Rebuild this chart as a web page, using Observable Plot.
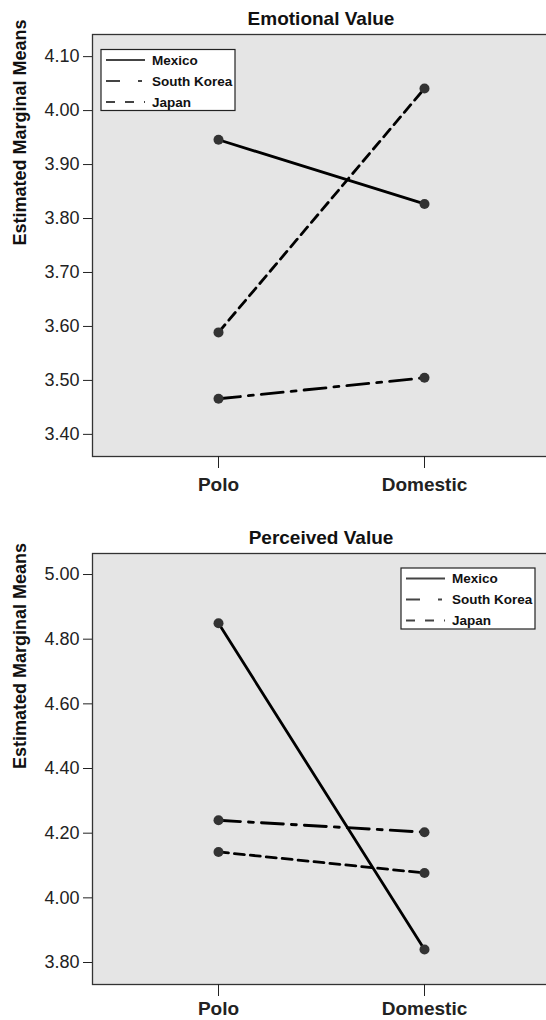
<!DOCTYPE html>
<html><head><meta charset="utf-8">
<script src="https://cdn.jsdelivr.net/npm/d3@7"></script>
<script src="https://cdn.jsdelivr.net/npm/@observablehq/plot@0.6"></script>
<style>
body{margin:0;background:#fff;font-family:"Liberation Sans",Arial,sans-serif;}
#wrap{width:546px;height:1020px;overflow:hidden;}
.title{width:550px;box-sizing:border-box;padding-left:92px;text-align:center;height:34px;line-height:38px;font-weight:bold;font-size:19px;color:#111;}
svg{display:block;max-width:none!important;}
</style></head><body><div id="wrap"></div>
<script>
// ---- data ----
const countries = ["Mexico", "South Korea", "Japan"];
const conditions = ["Polo", "Domestic"];
const emotionalMexico = [3.946, 3.827];
const emotionalSouthKorea = [3.466, 3.505];
const emotionalJapan = [3.589, 4.041];
const perceivedMexico = [4.849, 3.840];
const perceivedSouthKorea = [4.240, 4.203];
const perceivedJapan = [4.142, 4.077];
const emotionalTicks = [3.40, 3.50, 3.60, 3.70, 3.80, 3.90, 4.00, 4.10];
const perceivedTicks = [3.80, 4.00, 4.20, 4.40, 4.60, 4.80, 5.00];
const emotionalDomain = [3.359, 4.141];
const perceivedDomain = [3.732, 5.065];
const titles = ["Emotional Value", "Perceived Value"];
const yLabel = "Estimated Marginal Means";

// ---- styles ----
const lineDash = [null, "22,8,5,8", "10,6"];
const legendDash = [null, "14,18,4,20", "9,10"];

function rows(series) {
  const out = [];
  series.forEach((vals, i) => vals.forEach((v, j) => out.push({country: countries[i], condition: conditions[j], value: v})));
  return out;
}

function panel({title, data, domain, ticks, height, marginBottom, tickPadding, legendLeft, legendTop}) {
  const wrap = document.getElementById("wrap");
  const t = document.createElement("div");
  t.className = "title";
  t.textContent = title;
  wrap.appendChild(t);

  const lineMarks = countries.map((c, i) => Plot.line(data.filter(d => d.country === c), {
    x: "condition", y: "value", stroke: "#000", strokeWidth: 2.8,
    strokeDasharray: lineDash[i] ?? undefined
  }));

  const svg = Plot.plot({
    width: 550, height, marginLeft: 92, marginRight: 0, marginTop: 0, marginBottom,
    style: {fontFamily: "'Liberation Sans', Arial, sans-serif", color: "#222", background: "white", overflow: "visible"},
    x: {type: "point", domain: conditions, padding: 0.611},
    y: {domain, ticks},
    marks: [
      Plot.frame({fill: "#e5e5e5", stroke: "#333", strokeWidth: 1.3}),
      Plot.axisY({ticks, tickSize: 9, tickPadding: 4, fontSize: 18, label: null, tickFormat: d => d.toFixed(2)}),
      Plot.axisX({tickSize: 12, tickPadding, fontSize: 19, fontWeight: "bold", label: null}),
      ...lineMarks,
      Plot.dot(data, {x: "condition", y: "value", r: 5, fill: "#333", stroke: "none"}),
      Plot.text([yLabel], {frameAnchor: "left", rotate: -90, dx: -72, fontSize: 18, fontWeight: "bold", fill: "#111"})
    ]
  });
  svg.style.maxWidth = "none";
  wrap.appendChild(svg);

  const g = d3.select(svg).append("g").attr("transform", `translate(${legendLeft},${legendTop})`)
    .attr("text-anchor", "start");
  g.append("rect").attr("x", 0).attr("y", 0).attr("width", 134).attr("height", 61)
    .attr("fill", "white").attr("stroke", "#222").attr("stroke-width", 1.2);
  countries.forEach((c, i) => {
    const y = 10.5 + i * 21;
    const ln = g.append("line").attr("x1", 5).attr("x2", 44).attr("y1", y).attr("y2", y)
      .attr("stroke", "#444").attr("stroke-width", 2);
    if (legendDash[i]) ln.attr("stroke-dasharray", legendDash[i]);
    g.append("text").attr("x", 51).attr("y", y).attr("dy", "0.36em").text(c)
      .attr("text-anchor", "start")
      .attr("font-weight", "bold").attr("font-size", 13.5).attr("fill", "#111")
      .attr("font-family", "'Liberation Sans', Arial, sans-serif");
  });
}

panel({
  title: titles[0],
  data: rows([emotionalMexico, emotionalSouthKorea, emotionalJapan]),
  domain: emotionalDomain, ticks: emotionalTicks,
  height: 485, marginBottom: 63, tickPadding: 9, legendLeft: 101, legendTop: 15.5
});
panel({
  title: titles[1],
  data: rows([perceivedMexico, perceivedSouthKorea, perceivedJapan]),
  domain: perceivedDomain, ticks: perceivedTicks,
  height: 467, marginBottom: 36, tickPadding: 5, legendLeft: 401, legendTop: 15
});
</script>
</body></html>
